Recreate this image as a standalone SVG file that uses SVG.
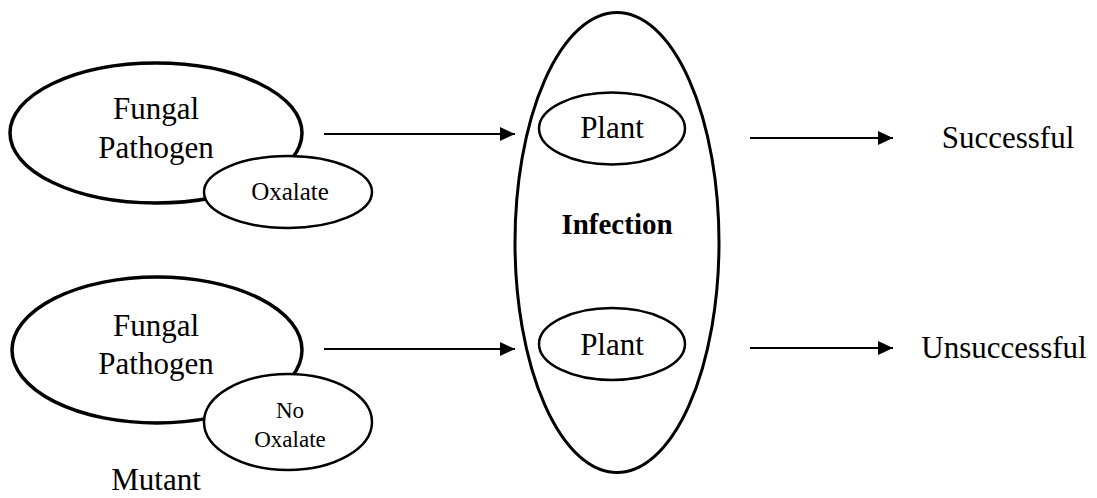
<svg xmlns="http://www.w3.org/2000/svg" width="1097" height="498" viewBox="0 0 1097 498">
<defs>
<style>
text{font-family:"Liberation Serif","Times New Roman",serif;fill:#000;text-anchor:middle}
.big{font-size:31px}
.small{font-size:24px}
.bold{font-size:29px;font-weight:bold}
.e1{fill:#fff;stroke:#000;stroke-width:3.5}
.e2{fill:#fff;stroke:#000;stroke-width:2.5}
.e3{fill:none;stroke:#000;stroke-width:3}
.c{stroke:#000;stroke-width:2;fill:none;marker-end:url(#ah)}
</style>
<marker id="ah" viewBox="0 0 15 14" refX="15" refY="7" markerWidth="15" markerHeight="14" markerUnits="userSpaceOnUse" orient="auto">
<path d="M0,0 L15,7 L0,14 Z" fill="#000"/>
</marker>
</defs>
<rect width="1097" height="498" fill="#fff"/>
<g id="pathogen1">
<ellipse class="e1" cx="156" cy="133" rx="146" ry="70"/>
<text class="big" x="156" y="119">Fungal</text>
<text class="big" x="156" y="158">Pathogen</text>
</g>
<g id="oxalate1">
<ellipse class="e2" cx="288" cy="192" rx="84" ry="36"/>
<text class="small" x="290" y="200" style="font-size:25px">Oxalate</text>
</g>
<g id="pathogen2">
<ellipse class="e1" cx="157" cy="350" rx="145" ry="73"/>
<text class="big" x="156" y="336">Fungal</text>
<text class="big" x="156" y="374">Pathogen</text>
</g>
<g id="oxalate2">
<ellipse class="e2" cx="288" cy="422" rx="84" ry="48"/>
<text class="small" x="290" y="418" style="font-size:23px">No</text>
<text class="small" x="290" y="447" style="font-size:23px">Oxalate</text>
</g>
<g id="mutant">
<text class="big" x="156" y="490">Mutant</text>
</g>
<g id="infection">
<ellipse class="e3" cx="617" cy="242.5" rx="102" ry="230"/>
<text class="bold" x="617" y="234">Infection</text>
</g>
<g id="plant1">
<ellipse class="e2" cx="612" cy="128.5" rx="73" ry="36"/>
<text class="big" x="612" y="138">Plant</text>
</g>
<g id="plant2">
<ellipse class="e2" cx="612" cy="344" rx="73" ry="36"/>
<text class="big" x="612" y="355">Plant</text>
</g>
<g id="successful">
<text class="big" x="1008" y="148">Successful</text>
</g>
<g id="unsuccessful">
<text class="big" x="1004" y="358">Unsuccessful</text>
</g>
<g id="connectors">
<line class="c" x1="324" y1="134" x2="515" y2="134"/>
<line class="c" x1="324" y1="349" x2="515" y2="349"/>
<line class="c" x1="750" y1="138" x2="893" y2="138"/>
<line class="c" x1="750" y1="348" x2="893" y2="348"/>
</g>
</svg>
